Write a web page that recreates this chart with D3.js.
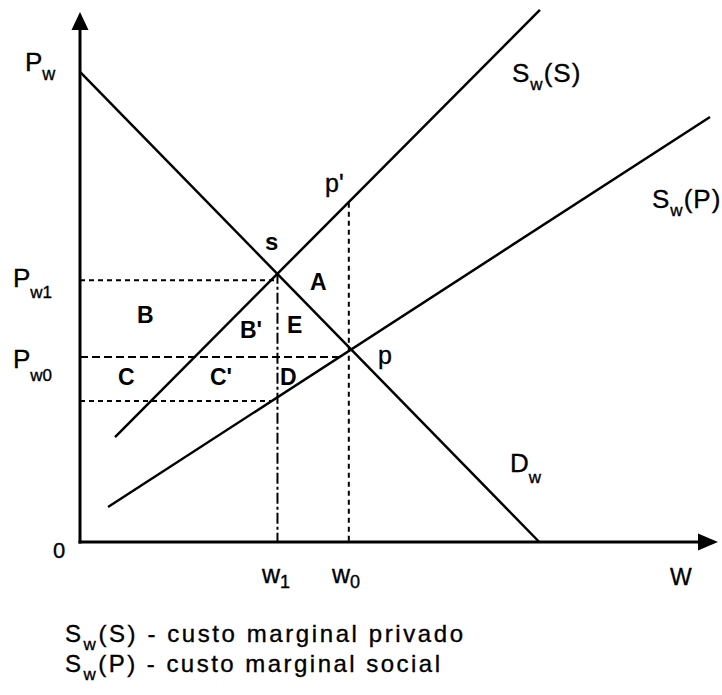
<!DOCTYPE html>
<html>
<head>
<meta charset="utf-8">
<script src="https://cdn.jsdelivr.net/npm/d3@7"></script>
<style>
  html, body { margin: 0; padding: 0; background: #fff; }
  svg { display: block; font-family: "Liberation Sans", Arial, Helvetica, sans-serif; }
</style>
</head>
<body>
<div id="chart"></div>
<script>
// Curves (W on x, price on y, in chart units 0..100)
const demandPts = [[0, 88.7], [72.1, 0]];          // D_w
const socialCostPts = [[5.5, 19.8], [72.2, 100.4]]; // S_w(S)
const privateCostPts = [[4.4, 6.6], [98.9, 80.2]];  // S_w(P)

// Reference levels
const priceLevels = [49.4, 34.9, 26.6];      // Pw1, Pw0, lower cost at w1
const priceGuideEnds = [31.0, 41.3, 30.0];   // where each horizontal guide stops
const quantityLevels = [31.0, 42.2];         // w1, w0
const quantityGuideTops = [50.8, 64.0];      // s and p'

const width = 722, height = 695;

const x = d3.scaleLinear().domain([0, 100]).range([80, 717]);
const y = d3.scaleLinear().domain([0, 100]).range([542, 12]);

const svg = d3.select("#chart").append("svg")
  .attr("width", width)
  .attr("height", height);

// guide styles
const hDash = ["5,4", "8,4", "5,4"];
const vDash = ["11,3,3,3", "5,4"];

// horizontal guides
svg.selectAll("line.hguide")
  .data(priceLevels)
  .join("line")
  .attr("class", "hguide")
  .attr("x1", x(0))
  .attr("x2", (d, i) => x(priceGuideEnds[i]))
  .attr("y1", d => y(d))
  .attr("y2", d => y(d))
  .attr("stroke", "#000")
  .attr("stroke-width", 2)
  .attr("stroke-dasharray", (d, i) => hDash[i]);

// vertical guides
svg.selectAll("line.vguide")
  .data(quantityLevels)
  .join("line")
  .attr("class", "vguide")
  .attr("x1", d => x(d))
  .attr("x2", d => x(d))
  .attr("y1", (d, i) => y(quantityGuideTops[i]))
  .attr("y2", y(0))
  .attr("stroke", "#000")
  .attr("stroke-width", 2)
  .attr("stroke-dasharray", (d, i) => vDash[i]);

// curves
const line = d3.line().x(d => x(d[0])).y(d => y(d[1]));
svg.selectAll("path.curve")
  .data([demandPts, socialCostPts, privateCostPts])
  .join("path")
  .attr("class", "curve")
  .attr("d", line)
  .attr("fill", "none")
  .attr("stroke", "#000")
  .attr("stroke-width", 2.5);

// axes with arrow heads
svg.append("line")
  .attr("x1", x(0)).attr("x2", x(0))
  .attr("y1", y(0) + 1.5).attr("y2", 26)
  .attr("stroke", "#000").attr("stroke-width", 3);
svg.append("line")
  .attr("x1", x(0) - 1.5).attr("x2", 700)
  .attr("y1", y(0)).attr("y2", y(0))
  .attr("stroke", "#000").attr("stroke-width", 3);
svg.append("path")
  .attr("d", `M${x(0)},12 L${x(0) - 8.5},30 L${x(0) + 8.5},30 Z`)
  .attr("fill", "#000");
svg.append("path")
  .attr("d", `M718,${y(0)} L698,${y(0) - 8.5} L698,${y(0) + 8.5} Z`)
  .attr("fill", "#000");

// text with subscripts: parts = [text, subShift]
function label(px, py, parts, size, subSize, opts = {}) {
  const t = svg.append("text")
    .attr("x", px)
    .attr("y", py)
    .attr("fill", "#000")
    .style("font-size", size + "px")
    .style("font-weight", opts.bold ? "bold" : "normal")
    .style("letter-spacing", (opts.ls || 0) + "px");
  if (!opts.bold) t.attr("stroke", "#000").attr("stroke-width", 0.35);
  let shift = 0;
  parts.forEach(p => {
    const s = p[1] || 0;
    t.append("tspan")
      .attr("dy", s - shift)
      .style("font-size", (s ? subSize : size) + "px")
      .text(p[0]);
    shift = s;
  });
  if (opts.len) t.attr("textLength", opts.len).attr("lengthAdjust", "spacing");
  return t;
}

// price axis labels
label(25, 71, [["P"], ["w", 9]], 26, 18);
label(13, 287, [["P"], ["w1", 11]], 26, 17);
label(13, 368, [["P"], ["w0", 13]], 26, 17);
label(53, 558, [["0"]], 22, 22);

// quantity axis labels
label(262, 583, [["w"], ["1", 5]], 25, 18);
label(332, 583, [["w"], ["0", 5]], 25, 18);
label(670, 585, [["W"]], 23, 23);

// curve labels
label(512, 82, [["S"], ["w", 8], ["(S)", 0]], 26, 17, { ls: 1 });
label(652, 208, [["S"], ["w", 8], ["(P)", 0]], 26, 17, { ls: 1 });
label(510, 472, [["D"], ["w", 11]], 26, 17);

// points
label(325, 192, [["p'"]], 25, 25);
label(265, 250, [["s"]], 24, 24, { bold: true });
label(378, 364, [["p"]], 25, 25);

// areas
const areaNames = ["A", "B", "B'", "E", "C", "C'", "D"];
const areaPos = [[310, 290], [137, 323], [240, 338], [287, 333], [118, 385], [210, 385], [280, 385]];
areaNames.forEach((n, i) => label(areaPos[i][0], areaPos[i][1], [[n]], 23, 23, { bold: true }));

// legend
label(65, 642, [["S"], ["w", 8], ["(S) - custo marginal privado", 0]], 24, 17, { len: 398 });
label(65, 672, [["S"], ["w", 8], ["(P) - custo marginal social", 0]], 24, 17, { len: 375 });
</script>
</body>
</html>
